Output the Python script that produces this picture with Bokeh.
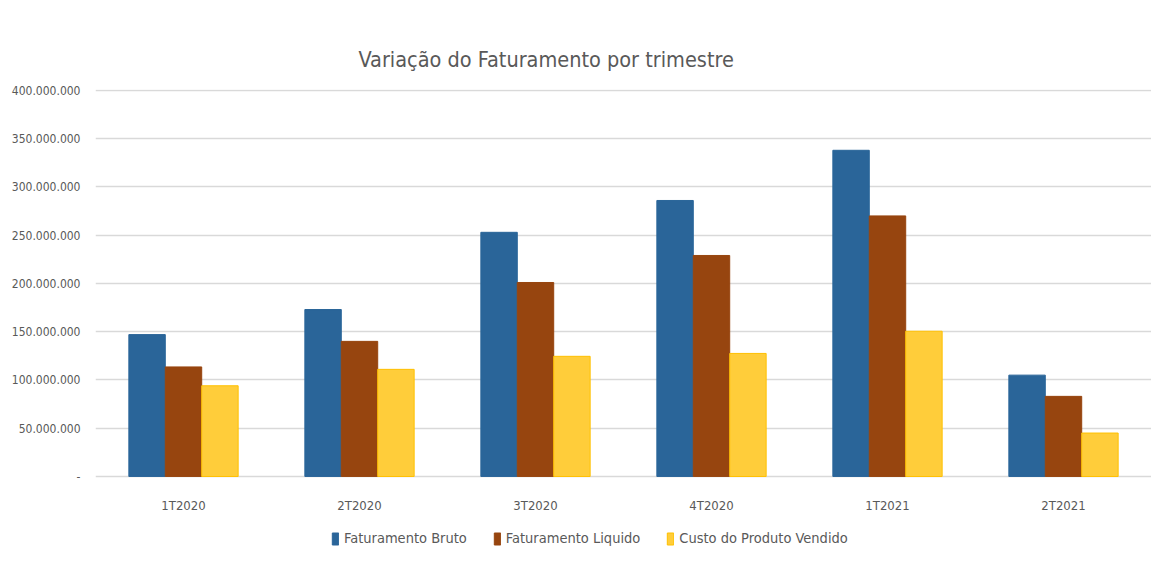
from bokeh.plotting import figure
from bokeh.models import ColumnDataSource, FactorRange, Range1d, FixedTicker, Legend, LegendItem, Title
from bokeh.core.properties import value
from bokeh.transform import dodge
from bokeh.embed import file_html
from bokeh.resources import INLINE

categories = ["1T2020", "2T2020", "3T2020", "4T2020", "1T2021", "2T2021"]
bruto = [147_000_000, 173_000_000, 253_000_000, 286_000_000, 338_000_000, 105_000_000]
liquido = [113_500_000, 140_000_000, 201_000_000, 229_000_000, 270_000_000, 83_000_000]
custo = [94_000_000, 111_000_000, 124_500_000, 127_500_000, 150_500_000, 45_000_000]
series_names = ["Faturamento Bruto", "Faturamento Liquido", "Custo do Produto Vendido"]
y_ticks = [0, 50_000_000, 100_000_000, 150_000_000, 200_000_000, 250_000_000, 300_000_000, 350_000_000, 400_000_000]

FONT = "DejaVu Sans Condensed"
TXT = "#595959"

src = ColumnDataSource(dict(cat=categories, bruto=bruto, liquido=liquido, custo=custo,
                            base=[0] * len(categories)))

# frame extends below zero to host the category labels and the legend
Y_END = 401_000_000
Y_START = -82_940_000

p = figure(x_range=FactorRange(*categories, range_padding=0), y_range=Range1d(Y_START, Y_END),
           frame_width=1056, frame_height=467, output_backend="svg", toolbar_location=None,
           min_border_left=95, min_border_right=0, min_border_top=89, min_border_bottom=0)

w = 0.207
fills = ["#2A6599", "#97450F", "#FFCD3A"]
lines = ["#2A6599", "#97450F", "#FFC000"]
renderers = []
for i, (col, fc, lc) in enumerate(zip(["bruto", "liquido", "custo"], fills, lines)):
    r = p.vbar(x=dodge("cat", (i - 1) * w, range=p.x_range), top=col, bottom="base", width=w,
               source=src, fill_color=fc, line_color=lc, line_width=1)
    renderers.append(r)

# category labels under the zero line
p.text(x="cat", y="base", text="cat", source=src, y_offset=29, text_align="center",
       text_baseline="middle", text_font=value(FONT), text_font_size="13px", text_color=TXT)

p.outline_line_color = None
p.xgrid.grid_line_color = None
p.ygrid.grid_line_color = "#d9d9d9"
p.ygrid.grid_line_width = 1.5
p.background_fill_color = "white"
p.border_fill_color = "white"
p.xaxis.visible = False

p.yaxis.ticker = FixedTicker(ticks=y_ticks)
p.yaxis.major_label_overrides = {t: ("-" if t == 0 else f"{t:,}".replace(",", ".")) for t in y_ticks}
p.yaxis.axis_line_color = None
p.yaxis.major_tick_line_color = None
p.yaxis.major_tick_out = 0
p.yaxis.minor_tick_line_color = None
p.yaxis.major_label_text_font = FONT
p.yaxis.major_label_text_font_size = "12px"
p.yaxis.major_label_text_color = TXT
p.yaxis.major_label_standoff = 15

title = Title(text="Variação do Faturamento por trimestre", align="left", offset=263,
              text_font=FONT, text_font_size="21.5px", text_font_style="normal",
              text_color=TXT, standoff=35)
p.add_layout(title, "above")

legend = Legend(items=[LegendItem(label=n, renderers=[r]) for n, r in zip(series_names, renderers)],
                orientation="horizontal", location=(236, 10), border_line_color=None,
                background_fill_alpha=0,
                label_text_font=FONT, label_text_font_size="14.5px", label_text_color=TXT,
                glyph_width=8, glyph_height=15, spacing=26, label_standoff=5,
                padding=0, margin=0)
p.add_layout(legend, "center")

open("out.html", "w").write(file_html(p, INLINE))
